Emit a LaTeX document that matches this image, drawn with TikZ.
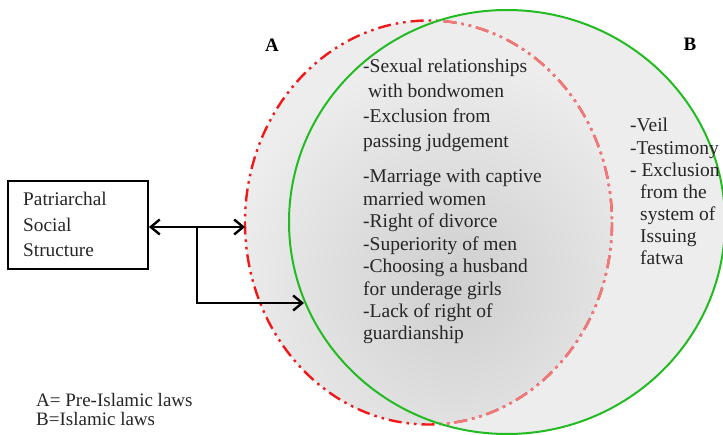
\documentclass[tikz,border=0pt]{standalone}
\usepackage{fontspec}
\setmainfont{Liberation Serif}
\usetikzlibrary{arrows.meta}
\definecolor{setred}{HTML}{F01818}
\definecolor{setpink}{HTML}{EE7A7A}
\definecolor{setgreen}{HTML}{22BB22}
\tikzset{
  redline/.style={line width=2.4pt, dash pattern=on 13pt off 5pt on 2.5pt off 5pt on 2.5pt off 5pt},
  greenline/.style={draw=setgreen, line width=2pt},
  listtext/.style={anchor=base west, inner sep=0pt, align=left, text=black!85},
  biglist/.style={listtext, font=\fontsize{19.5}{25.3}\selectfont},
  smalllist/.style={listtext, font=\fontsize{19.5}{22.45}\selectfont},
  rightlist/.style={listtext, font=\fontsize{19.5}{22.17}\selectfont},
  setlabel/.style={anchor=base, inner sep=0pt, font=\fontsize{19}{22}\selectfont\bfseries},
  sourcebox/.style={draw, line width=1.8pt, minimum width=140pt, minimum height=88pt, inner sep=0pt},
  link/.style={line width=2.4pt, {Straight Barb[length=9pt,width=15pt]}-{Straight Barb[length=9pt,width=15pt]}},
  linkone/.style={line width=2.4pt, -{Straight Barb[length=9pt,width=15pt]}}
}
\begin{document}
\begin{tikzpicture}[x=1pt,y=-1pt]
  \useasboundingbox (0,0) rectangle (723,435);
  \fill[white] (0,0) rectangle (723,435);
  \clip (0,0) rectangle (723,435);

  % set B (Islamic laws) background
  \fill[black!7] (507,222) ellipse [x radius=218, y radius=212];

  % set A (pre-Islamic laws) with a soft darker centre
  \begin{scope}
    \clip (428.5,222.5) ellipse [x radius=183.5, y radius=202];
    \fill[black!7] (428.5,222.5) ellipse [x radius=183.5, y radius=202];
    \shade[inner color=black!19, outer color=black!7] (455,285) ellipse [x radius=230, y radius=230];
  \end{scope}

  % outline of A: full red, faded where it lies inside B
  \draw[redline, draw=setred] (428.5,222.5) ellipse [x radius=183.5, y radius=202];
  \begin{scope}
    \clip (507,222) ellipse [x radius=218, y radius=212];
    \draw[redline, draw=setpink] (428.5,222.5) ellipse [x radius=183.5, y radius=202];
  \end{scope}

  % outline of B
  \draw[greenline] (507,222) ellipse [x radius=218, y radius=212];

  % set labels
  \node[setlabel] (la) at (272,52) {A};
  \node[setlabel] (lb) at (690,51) {B};

  % items shared by both sets (anchored at the baseline of the last line)
  \node[biglist] (top) at (363,148) {-Sexual relationships\\\ with bondwomen\\-Exclusion from\\passing judgement};
  \node[smalllist] (mid) at (363,340) {-Marriage with captive\\married women\\-Right of divorce\\-Superiority of men\\-Choosing a husband\\for underage girls\\-Lack of right of\\guardianship};

  % items of Islamic laws only
  \node[rightlist] (right) at (630,265) {-Veil\\-Testimony\\- Exclusion\\\hspace*{10pt}from the\\\hspace*{10pt}system of\\\hspace*{10pt}Issuing\\\hspace*{10pt}fatwa};

  % source box
  \node[sourcebox] (ps) at (78,225) {};
  \node[listtext, font=\fontsize{19.3}{25.5}\selectfont] (pst) at (23,257) {Patriarchal\\Social\\Structure};

  % connectors
  \coordinate (aw) at (245,227);
  \coordinate (j) at (197,227);
  \coordinate (bw) at (304,303);
  \draw[link] (ps.east |- aw) -- (aw);
  \draw[linkone] (j) |- (bw);

  % legend
  \node[listtext, font=\fontsize{19}{19}\selectfont] (leg) at (36,425) {A= Pre-Islamic laws\\B=Islamic laws};
\end{tikzpicture}
\end{document}
